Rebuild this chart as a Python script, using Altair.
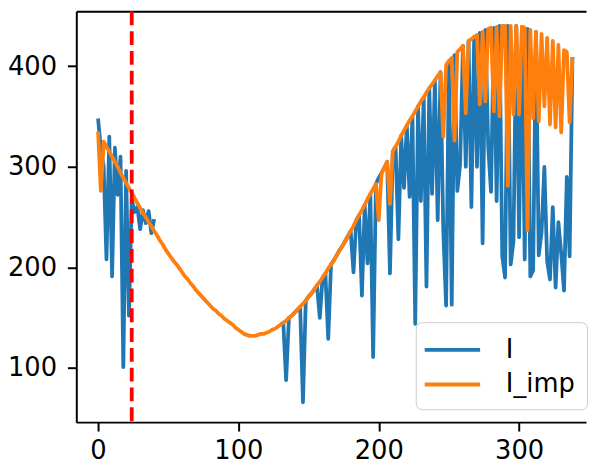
import altair as alt
import pandas as pd

# ---- data ----
x_days = list(range(0, 340, 2))

i_observed = [
    348, 318, 300, 208, 330, 191, 319, 272, 310, 101,
    296, 152, 268, 255, 260, 238, 257, 244, 256, 234,
    248, None, None, None, None, None, None, None, None, None,
    None, None, None, None, None, None, None, None, None, None,
    None, None, None, None, None, None, None, None, None, None,
    None, None, None, None, None, None, None, None, None, None,
    None, None, None, None, None,
    143, 145, 88, 150, 152,
    155, 158, 161, 66, 167, 171, 174, 178, 182, 150,
    190, 194, 129, 203, 207, 212, 217, 221, 226, 231,
    236, 195, 247, 252, 172, 262, 204, 273, 111, 283,
    289, 294, 299, 305, 194, 315, 320, 228, 331, 279,
    341, 270, 350, 144, 360, 266, 369, 181, 378, 273,
    386, 247, 394, 236, 162, 405, 163, 411, 276, 303,
    420, 300, 425, 260, 429, 300, 433, 224, 436, 320,
    275, 438, 266, 440, 211, 190, 440, 203, 226, 440,
    230, 439, 208, 437, 191, 197, 434, 212, 235, 300,
    206, 188, 260, 180, 245, 214, 177, 290, 211, 409,
]

i_imputed = [
    335, 276, 325, 320, 315, 310, 305, 300, 294, 289,
    284, 279, 274, 269, 264, 259, 254, 250, 245, 241,
    236, 232, 227, 223, 218, 214, 210, 206, 203, 199,
    195, 191, 188, 184, 181, 177, 174, 171, 168, 165,
    162, 159, 157, 154, 152, 149, 147, 145, 143, 140,
    138, 136, 134, 133, 132, 132, 132, 133, 134, 134,
    135, 136, 138, 139, 141, 143, 145, 147, 150, 152,
    155, 158, 161, 164, 167, 171, 174, 178, 182, 186,
    190, 194, 199, 203, 207, 212, 217, 221, 226, 231,
    236, 241, 247, 252, 257, 262, 268, 273, 278, 283,
    247, 294, 299, 305, 263, 315, 320, 325, 331, 336,
    341, 346, 350, 355, 360, 365, 369, 374, 378, 382,
    386, 390, 394, 330, 401, 405, 408, 326, 414, 417,
    420, 353, 425, 427, 429, 431, 362, 434, 365, 437,
    438, 355, 439, 350, 440, 440, 281, 440, 352, 440,
    352, 439, 438, 237, 436, 348, 434, 345, 432, 360,
    428, 342, 425, 339, 421, 334, 416, 414, 344, 409,
]

cutoff_x = [24]
series_names = ["I", "I_imp"]
series_colors = ["#1f77b4", "#ff7f0e"]
x_ticks = [0, 100, 200, 300]
y_ticks = [100, 200, 300, 400]

# ---- tables ----
obs_rows = []
seg = 0
gap = True
for x, v in zip(x_days, i_observed):
    if v is None:
        gap = True
        continue
    if gap:
        seg += 1
        gap = False
    obs_rows.append({"x": x, "value": v, "series": series_names[0], "seg": seg})
obs_df = pd.DataFrame(obs_rows)
imp_df = pd.DataFrame({"x": x_days, "value": i_imputed, "series": series_names[1]})
cut_df = pd.DataFrame({"x": cutoff_x})

x_scale = alt.Scale(domain=[-15.5, 347.7], nice=False, zero=False)
y_scale = alt.Scale(domain=[46.3, 454.4], nice=False, zero=False)
color_scale = alt.Scale(domain=series_names, range=series_colors)

axis_common = dict(
    title=None, grid=False, labelFontSize=26, labelColor="black",
    tickSize=9, tickWidth=2, tickColor="black",
    domainWidth=2, domainColor="black", format="d",
)
y_axis = alt.Axis(values=y_ticks, labelPadding=11, **axis_common)

legend = alt.Legend(
    title=None, orient="none", legendX=343, legendY=314,
    labelFontSize=26, labelColor="black", labelOffset=38,
    symbolType="M-2,0L2,0", symbolSize=784, symbolStrokeWidth=4, symbolOffset=9,
    padding=12, rowPadding=6,
    fillColor="white", strokeColor="#cccccc", cornerRadius=6,
)

blue = alt.Chart(obs_df).mark_line(strokeWidth=3.8, strokeJoin="round").encode(
    x=alt.X("x:Q", scale=x_scale,
            axis=alt.Axis(values=x_ticks, labelPadding=7, labelFlush=False, **axis_common)),
    y=alt.Y("value:Q", scale=y_scale, axis=y_axis),
    color=alt.Color("series:N", scale=color_scale, legend=legend),
    detail="seg:N",
)

orange = alt.Chart(imp_df).mark_line(strokeWidth=3.8, strokeJoin="round").encode(
    x=alt.X("x:Q", scale=x_scale, axis=None),
    y=alt.Y("value:Q", scale=y_scale, axis=y_axis),
    color=alt.Color("series:N", scale=color_scale, legend=legend),
)

cut = alt.Chart(cut_df).mark_rule(color="#ff0000", strokeWidth=3.8, strokeDash=[14, 6]).encode(
    x=alt.X("x:Q", scale=x_scale,
            axis=alt.Axis(orient="top", labels=False, ticks=False, grid=False, title=None,
                          domainWidth=2, domainColor="black")),
)

chart = (
    alt.layer(blue, orange, cut)
    .resolve_axis(x="independent")
    .properties(width=515, height=415,
                autosize=alt.AutoSizeParams(type="none"),
                padding={"left": 69, "top": 1, "right": 4, "bottom": 50})
    .configure(font="DejaVu Sans")
    .configure_view(stroke=None)
)

chart.save("out.html", embed_options={"renderer": "svg", "actions": False})
